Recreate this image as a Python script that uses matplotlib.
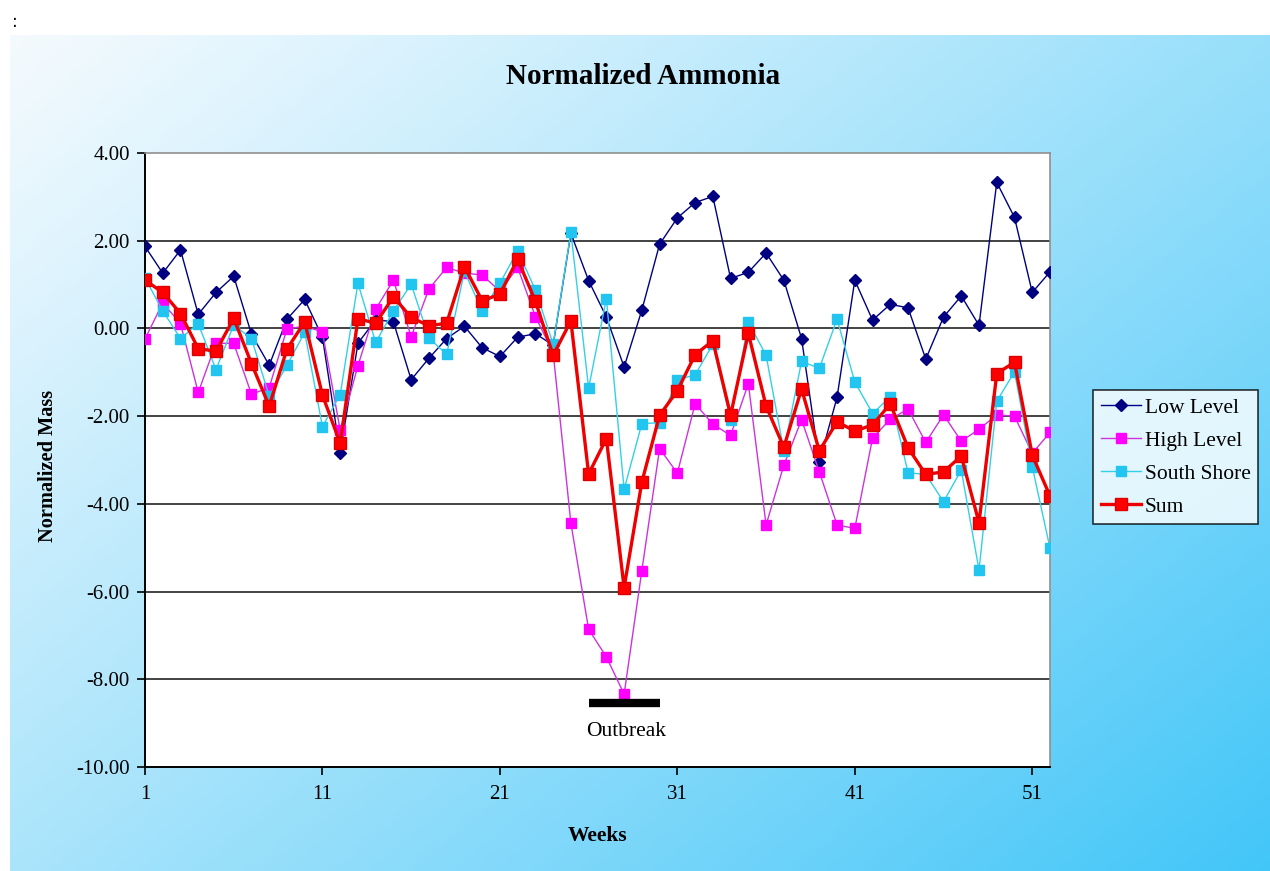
import numpy as np
import matplotlib
matplotlib.use("Agg")
import matplotlib.pyplot as plt

# weekly normalized ammonia mass, weeks 1..52
weeks = np.arange(1, 53)

low_level = [1.87, 1.26, 1.79, 0.32, 0.82, 1.19, -0.13, -0.84, 0.21, 0.66,
             -0.20, -2.84, -0.34, 0.20, 0.15, -1.17, -0.68, -0.23, 0.05, -0.44,
             -0.64, -0.20, -0.12, -0.38, 2.17, 1.09, 0.26, -0.88, 0.42, 1.92,
             2.52, 2.87, 3.01, 1.14, 1.28, 1.72, 1.10, -0.23, -3.05, -1.57,
             1.10, 0.19, 0.55, 0.47, -0.70, 0.26, 0.74, 0.07, 3.33, 2.53,
             0.82, 1.29]

high_level = [-0.24, 0.58, 0.11, -1.46, -0.34, -0.34, -1.50, -1.35, -0.01, 0.05,
              -0.08, -2.32, -0.85, 0.44, 1.10, -0.19, 0.90, 1.39, 1.26, 1.22,
              0.85, 1.39, 0.27, -0.55, -4.44, -6.86, -7.49, -8.34, -5.52, -2.74,
              -3.30, -1.72, -2.18, -2.44, -1.26, -4.48, -3.12, -2.08, -3.27, -4.48,
              -4.56, -2.50, -2.07, -1.84, -2.60, -1.97, -2.57, -2.30, -1.97, -2.00,
              -2.85, -2.37]

south_shore = [1.15, 0.40, -0.23, 0.11, -0.94, 0.08, -0.23, -1.54, -0.84, -0.09,
               -2.24, -1.51, 1.03, -0.32, 0.40, 1.01, -0.22, -0.59, 1.30, 0.40,
               1.03, 1.77, 0.88, -0.36, 2.19, -1.36, 0.68, -3.67, -2.17, -2.15,
               -1.17, -1.06, -0.36, -2.08, 0.14, -0.61, -2.79, -0.75, -0.91, 0.21,
               -1.22, -1.94, -1.56, -3.29, -3.33, -3.95, -3.23, -5.51, -1.66, -0.99,
               -3.15, -5.01]

total = [1.10, 0.82, 0.34, -0.46, -0.52, 0.23, -0.80, -1.77, -0.47, 0.15,
         -1.52, -2.62, 0.22, 0.12, 0.72, 0.25, 0.06, 0.12, 1.41, 0.63,
         0.78, 1.58, 0.62, -0.61, 0.17, -3.32, -2.51, -5.91, -3.50, -1.98,
         -1.42, -0.60, -0.28, -1.98, -0.11, -1.77, -2.71, -1.38, -2.79, -2.13,
         -2.34, -2.20, -1.72, -2.72, -3.33, -3.27, -2.91, -4.43, -1.03, -0.77,
         -2.89, -3.82]

outbreak_weeks = [26, 30]
outbreak_y = -8.55

xticks = [1, 11, 21, 31, 41, 51]
yticks = [-10, -8, -6, -4, -2, 0, 2, 4]

plt.rcParams["font.family"] = ["Liberation Serif", "DejaVu Serif"]

W, H = 1270, 871
fig = plt.figure(figsize=(W / 100, H / 100), dpi=100)
fig.patch.set_facecolor("white")

# diagonal light-to-sky-blue backdrop
bg = fig.add_axes([10 / W, 0, 1 - 10 / W, 1 - 35 / H], zorder=-10)
gx, gy = np.meshgrid(np.linspace(0, 1, 400), np.linspace(0, 1, 300))
t = np.clip((gx * 0.55 + gy * 0.45), 0, 1) ** 1.1
c0 = np.array([244, 250, 254]) / 255
c1 = np.array([66, 198, 248]) / 255
img = c0[None, None, :] * (1 - t[..., None]) + c1[None, None, :] * t[..., None]
bg.imshow(img, aspect="auto", interpolation="bilinear")
bg.set_axis_off()

fig.text(12 / W, 1 - 22 / H, ":", fontsize=12, family="DejaVu Sans", va="center")

ax = fig.add_axes([145 / W, 1 - 767 / H, 905 / W, 614 / H])
ax.set_facecolor("white")

ax.plot(weeks, low_level, color="#000080", lw=1.0, marker="D", ms=6,
        mfc="#000080", mec="#000080", label="Low Level", zorder=3)
ax.plot(weeks, high_level, color="#cc33dd", lw=1.0, marker="s", ms=7,
        mfc="#ff00ff", mec="#ff00ff", label="High Level", zorder=4)
ax.plot(weeks, south_shore, color="#33d0e8", lw=1.0, marker="s", ms=7,
        mfc="#22c4f0", mec="#22c4f0", label="South Shore", zorder=5)
ax.plot(weeks, total, color="#ee0000", lw=2.4, marker="s", ms=8,
        mfc="#ff0000", mec="#dd0000", label="Sum", zorder=6)

# outbreak period marker
ax.plot(outbreak_weeks, [outbreak_y, outbreak_y], color="black", lw=6,
        solid_capstyle="butt", zorder=7)
ax.text(np.mean(outbreak_weeks) + 0.1, -9.2, "Outbreak", ha="center",
        va="center", fontsize=15.5)

ax.set_xlim(1, 52)
ax.set_ylim(-10, 4)
ax.set_xticks(xticks)
ax.set_yticks(yticks)
ax.set_yticklabels([f"{v:.2f}" for v in yticks])
ax.tick_params(axis="both", direction="out", length=6, width=1.2,
               labelsize=15, color="black")
ax.tick_params(axis="x", pad=7)
ax.tick_params(axis="y", pad=5)
for v in yticks[1:-1]:
    ax.axhline(v, color="#222222", lw=1.2, zorder=1)
for side in ("left", "bottom"):
    ax.spines[side].set_color("black")
    ax.spines[side].set_linewidth(1.4)
for side in ("top", "right"):
    ax.spines[side].set_color("#909090")
    ax.spines[side].set_linewidth(1.2)

fig.text(643 / W, 1 - 76 / H, "Normalized Ammonia", ha="center",
         va="center", fontsize=21, fontweight="bold")
fig.text(48 / W, 1 - 466 / H, "Normalized Mass", ha="center", va="center",
         rotation=90, fontsize=14.7, fontweight="bold")
fig.text(597 / W, 1 - 836 / H, "Weeks", ha="center", va="center",
         fontsize=15.5, fontweight="bold")

leg = fig.legend(loc="upper left", bbox_to_anchor=(1093 / W, 1 - 390 / H),
                 frameon=True, fancybox=False, edgecolor="black",
                 fontsize=15.5, handlelength=1.9, handletextpad=0.15,
                 labelspacing=0.6, borderpad=0.35, borderaxespad=0)
leg.get_frame().set_linewidth(1.2)
leg.get_frame().set_facecolor("white")

fig.savefig("out.png", dpi=100)
